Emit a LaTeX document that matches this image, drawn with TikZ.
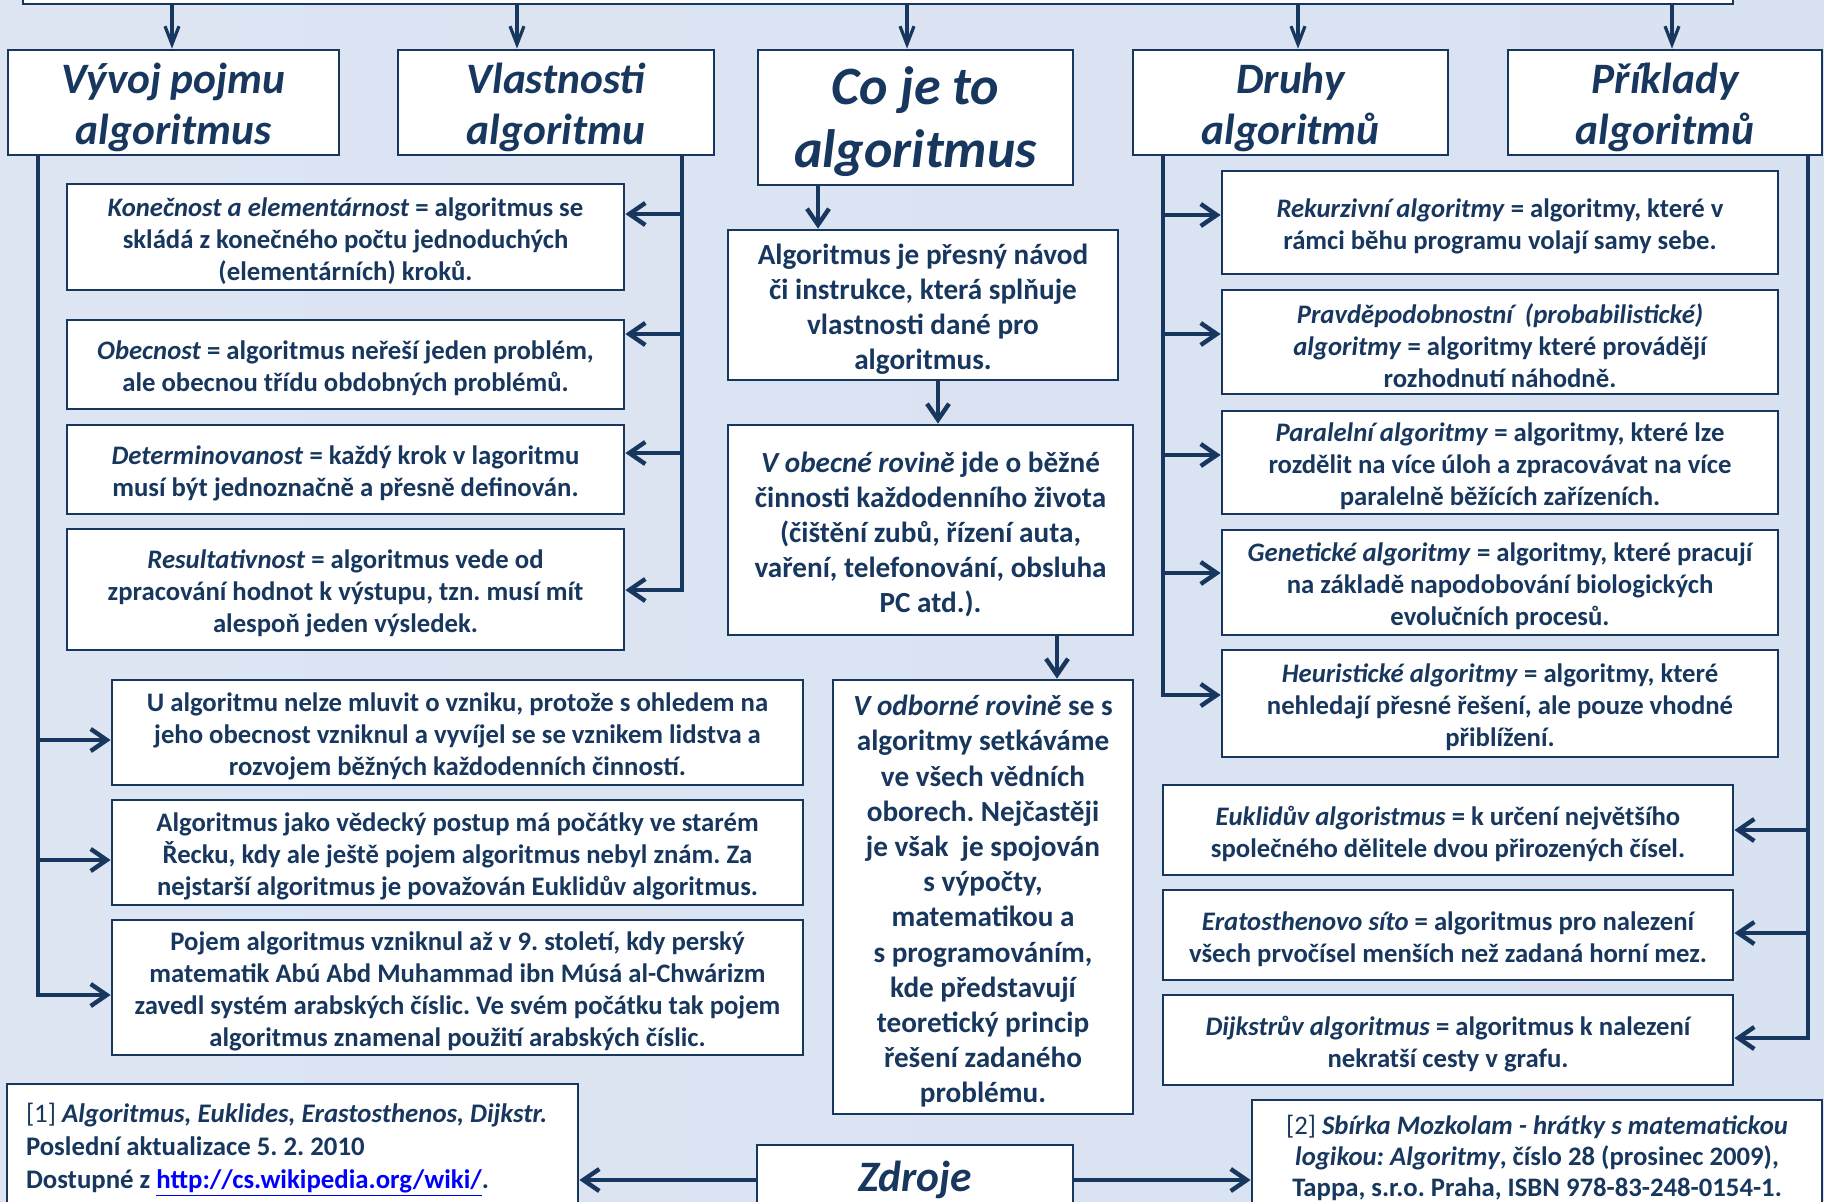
\documentclass[tikz,border=0pt]{standalone}
\usepackage{fontspec}
\setmainfont{Carlito}
\usetikzlibrary{arrows.meta}
\frenchspacing

\definecolor{navy}{RGB}{23,55,94}
\definecolor{bgside}{RGB}{221,229,243}
\definecolor{bgmid}{RGB}{195,211,236}
\definecolor{bgright}{RGB}{217,226,241}
\definecolor{linkblue}{RGB}{0,0,255}

\tikzset{
  box/.style={draw=navy, line width=1.4pt, fill=white, text=navy, align=flush center, inner sep=0pt},
  sz/.style 2 args={minimum width=#1, text width=#1-3pt, minimum height=#2},
  headfont/.style={font=\bfseries\itshape\fontsize{21.7}{25.5}\selectfont},
  head/.style={box, headfont, execute at begin node={\rule{0pt}{0.95em}}},
  small/.style={box, font=\bfseries\fontsize{13.35}{16}\selectfont, execute at begin node={\rule{0pt}{1em}}},
  mid/.style={box, font=\bfseries\fontsize{14.6}{17.6}\selectfont, execute at begin node={\rule{0pt}{1em}}},
  conn/.style={draw=navy, line width=2.2pt, line cap=rect},
  arr/.style={conn, -{Straight Barb[length=8pt,width=11pt]}},
  toparr/.style={draw=navy, line width=1.6pt, -{Straight Barb[length=9pt,width=7pt]}}
}

\begin{document}
\begin{tikzpicture}[x=0.5pt, y=-0.5pt]
\useasboundingbox (0,0) rectangle (1824,1201);
\shade[left color=bgside, middle color=bgmid, right color=bgright] (0,0) rectangle (1824,1201);

% title, mostly above the page
\node[box, minimum width=855pt, minimum height=32pt] (title) at (878,-28) {};

% headings
\node[head, sz={165.5pt}{52.5pt}] (vyvoj) at (173.5,102.5) {Vývoj pojmu\\algoritmus};
\node[head, sz={158pt}{52.5pt}] (vlast) at (556,102.5) {Vlastnosti\\algoritmu};
\node[box, font=\bfseries\itshape\fontsize{27}{31.5}\selectfont, execute at begin node={\rule{0pt}{0.87em}},
  sz={157.5pt}{67.5pt}] (coje) at (915.5,117.5) {Co je to\\algoritmus};
\node[head, sz={157.5pt}{52.5pt}] (druhy) at (1290.5,102.5) {Druhy\\algoritmů};
\node[head, sz={157pt}{52.5pt}] (prikl) at (1665,102.5) {Příklady\\algoritmů};

% vlastnosti
\node[small, sz={278.5pt}{53pt}] (kon) at (345.5,237)
  {\textit{Konečnost a elementárnost} = algoritmus se\\skládá z konečného počtu jednoduchých\\(elementárních) kroků.};
\node[small, sz={278.5pt}{44.5pt}] (obec) at (345.5,364.5)
  {\textit{Obecnost} = algoritmus neřeší jeden problém,\\ale obecnou třídu obdobných problémů.};
\node[small, sz={278.5pt}{44.5pt}] (det) at (345.5,469.5)
  {\textit{Determinovanost} = každý krok v lagoritmu\\musí být jednoznačně a přesně definován.};
\node[small, sz={278.5pt}{60.5pt}] (res) at (345.5,589.5)
  {\textit{Resultativnost} = algoritmus vede od\\zpracování hodnot k výstupu, tzn. musí mít\\alespoň jeden výsledek.};

% vyvoj
\node[small, sz={345.5pt}{52.5pt}] (u) at (457.5,732.5)
  {U algoritmu nelze mluvit o vzniku, protože s ohledem na\\jeho obecnost vzniknul a vyvíjel se se vznikem lidstva a\\rozvojem běžných každodenních činností.};
\node[small, sz={345.5pt}{52.5pt}] (jako) at (457.5,852.5)
  {Algoritmus jako vědecký postup má počátky ve starém\\Řecku, kdy ale ještě pojem algoritmus nebyl znám. Za\\nejstarší algoritmus je považován Euklidův algoritmus.};
\node[small, sz={345.5pt}{67.5pt}] (pojem) at (457.5,987.5)
  {Pojem algoritmus vzniknul až v 9. století, kdy perský\\matematik Abú Abd Muhammad ibn Músá al-Chwárizm\\zavedl systém arabských číslic. Ve svém počátku tak pojem\\algoritmus znamenal použití arabských číslic.};

% co je to
\node[mid, sz={195pt}{75pt}] (def) at (923,305)
  {Algoritmus je přesný návod\\či instrukce, která splňuje\\vlastnosti dané pro\\algoritmus.};
\node[mid, sz={202.5pt}{105pt}] (obecna) at (930.5,530)
  {\textit{V obecné rovině} jde o běžné\\činnosti každodenního života\\(čištění zubů, řízení auta,\\vaření, telefonování, obsluha\\PC atd.).};
\node[mid, sz={150pt}{217pt}] (odborna) at (983,897)
  {\textit{V odborné rovině} se s\\algoritmy setkáváme\\ve všech vědních\\oborech. Nejčastěji\\je však\ \ je spojován\\s výpočty,\\matematikou a\\s programováním,\\kde představují\\teoretický princip\\řešení zadaného\\problému.};

% druhy
\node[small, sz={278pt}{51.5pt}] (rek) at (1500,222.5)
  {\textit{Rekurzivní algoritmy} = algoritmy, které v\\rámci běhu programu volají samy sebe.};
\node[small, sz={278pt}{52pt}] (prav) at (1500,342)
  {\textit{Pravděpodobnostní\ \ (probabilistické)}\\\textit{algoritmy} = algoritmy které provádějí\\rozhodnutí náhodně.};
\node[small, sz={278pt}{51.5pt}] (par) at (1500,462.5)
  {\textit{Paralelní algoritmy} = algoritmy, které lze\\rozdělit na více úloh a zpracovávat na více\\paralelně běžících zařízeních.};
\node[small, sz={278pt}{52.5pt}] (gen) at (1500,582.5)
  {\textit{Genetické algoritmy} = algoritmy, které pracují\\na základě napodobování biologických\\evolučních procesů.};
\node[small, sz={278pt}{53.5pt}] (heur) at (1500,703.5)
  {\textit{Heuristické algoritmy} = algoritmy, které\\nehledají přesné řešení, ale pouze vhodné\\přiblížení.};

% priklady
\node[small, sz={285pt}{45pt}] (eukl) at (1448,830)
  {\textit{Euklidův algoristmus} = k určení největšího\\společného dělitele dvou přirozených čísel.};
\node[small, sz={285pt}{45pt}] (erat) at (1448,935)
  {\textit{Eratosthenovo síto} = algoritmus pro nalezení\\všech prvočísel menších než zadaná horní mez.};
\node[small, sz={285pt}{45pt}] (dijk) at (1448,1040)
  {\textit{Dijkstrův algoritmus} = algoritmus k nalezení\\nekratší cesty v grafu.};

% zdroje
\node[box, headfont, minimum width=158pt, minimum height=35pt] (zdroje) at (915,1180) {Zdroje};
\node[box, font=\bfseries\fontsize{13.4}{16.5}\selectfont, execute at begin node={\rule{0pt}{1em}},
  align=flush left, text width=266.5pt, inner xsep=9.5pt,
  minimum width=285.5pt, minimum height=62pt] (ref1) at (292.5,1146)
  {{\mdseries [1]} \textit{Algoritmus, Euklides, Erastosthenos, Dijkstr.}\\Poslední aktualizace 5. 2. 2010\\Dostupné z \textcolor{linkblue}{\underline{http://cs.wikipedia.org/wiki/}}.};
\node[box, font=\bfseries\fontsize{13.35}{15.5}\selectfont, execute at begin node={\rule{0pt}{1em}},
  sz={285pt}{54pt}] (ref2) at (1537,1154)
  {{\mdseries [2]} \textit{Sbírka Mozkolam - hrátky s matematickou}\\\textit{logikou: Algoritmy}, číslo 28 (prosinec 2009),\\Tappa, s.r.o. Praha, ISBN 978-83-248-0154-1.};

% arrows from the title
\foreach \n/\x in {vyvoj/172, vlast/517, coje/907, druhy/1298, prikl/1672}{
  \coordinate (t-\n) at (\x,4);
  \draw[toparr] (t-\n) -- (t-\n |- \n.north);
}

% branches
\foreach \n/\y in {kon/214, obec/334, det/453, res/590}{
  \coordinate (a-\n) at (682,\y);
  \draw[arr] (a-\n) -- (a-\n -| \n.east);
}
\draw[conn] (vlast.south -| a-kon) -- (a-res);

\foreach \n/\y in {u/740, jako/860, pojem/995}{
  \coordinate (b-\n) at (38,\y);
  \draw[arr] (b-\n) -- (b-\n -| \n.west);
}
\draw[conn] (vyvoj.south -| b-u) -- (b-pojem);

\foreach \n/\y in {rek/215, prav/334, par/455, gen/573, heur/695}{
  \coordinate (c-\n) at (1163,\y);
  \draw[arr] (c-\n) -- (c-\n -| \n.west);
}
\draw[conn] (druhy.south -| c-rek) -- (c-heur);

\foreach \n/\y in {eukl/830, erat/933, dijk/1038}{
  \coordinate (d-\n) at (1808,\y);
  \draw[arr] (d-\n) -- (d-\n -| \n.east);
}
\draw[conn] (prikl.south -| d-eukl) -- (d-dijk);

% middle chain
\coordinate (m1) at (818,0);
\coordinate (m2) at (938,0);
\coordinate (m3) at (1057,0);
\draw[arr] (coje.south -| m1) -- (def.north -| m1);
\draw[arr] (def.south -| m2) -- (obecna.north -| m2);
\draw[arr] (obecna.south -| m3) -- (odborna.north -| m3);

\draw[arr] (zdroje.west) -- (zdroje.west -| ref1.east);
\draw[arr] (zdroje.east) -- (zdroje.east -| ref2.west);
\end{tikzpicture}
\end{document}
